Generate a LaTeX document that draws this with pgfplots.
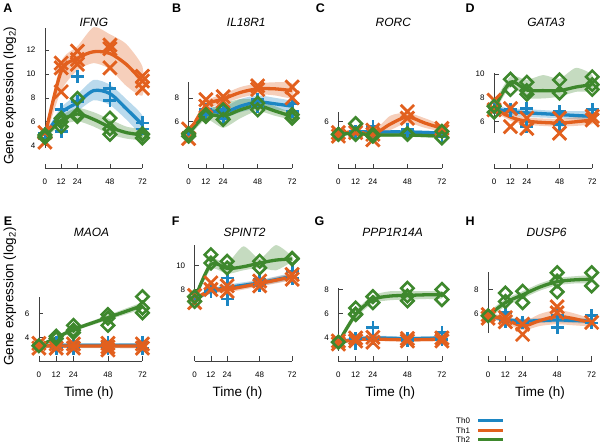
\documentclass[border=0pt]{standalone}
\usepackage{fontspec}
\setmainfont{Liberation Sans}
\usepackage{pgfplots}
\pgfplotsset{compat=1.18}
\definecolor{c0}{RGB}{28,134,195}
\definecolor{c1}{RGB}{226,96,30}
\definecolor{c2}{RGB}{62,136,45}
\colorlet{axc}{black!75}
\pgfplotsset{
 panel/.style={scale only axis, clip=false, xmin=0, xmax=72, enlargelimits=false,
   axis x line*=bottom, axis y line*=left,
   x axis line style={-, draw=axc, line width=0.6pt},
   y axis line style={draw=none},
   xtick={0,12,24,48,72}, tick align=inside, major tick length=4.5pt,
   tick style={axc, line width=0.6pt},
   ticklabel style={font=\fontsize{8}{9}\selectfont},
   xticklabel style={yshift=-7.5pt}, yticklabel style={xshift=-6pt},
   /pgf/number format/assume math mode=true,
   anchor=south west},
 toprow/.style={ymin=2.125, ymax=14, height=142.5pt},
 botrow/.style={ymin=2.03, ymax=12, height=119.64pt},
}
\newcommand{\band}[2]{\addplot[#1, fill=#1, fill opacity=0.3, draw=none, smooth, tension=0.4, forget plot] coordinates {#2} -- cycle;}
\newcommand{\mline}[2]{\addplot[#1, line width=3.3pt, smooth, no marks] coordinates {#2};}
\newcommand{\mzero}[1]{\addplot[only marks, c0, mark=+, mark size=6.5pt, mark options={line width=2.8pt}] coordinates {#1};}
\newcommand{\mone}[1]{\addplot[only marks, c1, mark=x, mark size=9.5pt, mark options={line width=2.8pt}] coordinates {#1};}
\newcommand{\mtwo}[1]{\addplot[only marks, c2, mark=square, mark size=4.4pt, mark options={line width=2.6pt, rotate=45}] coordinates {#1};}
\newcommand{\yrange}[2]{\draw[axc, line width=0.6pt] (axis cs:0,#1) -- (axis cs:0,#2);}
\begin{document}
\begin{tikzpicture}
\path (0,0) rectangle (600pt,445pt);
% ---------- A IFNG
\begin{axis}[panel, toprow, at={(45pt,276.5pt)}, width=97.7pt, ytick={4,6,8,10,12}]
\yrange{3.8}{13.8}
\band{c0}{(0,5.1)(12,7.2)(24,8.3)(36,9.5)(48,9.1)(60,7.9)(72,6.5)(72,4.9)(60,6.2)(48,7.4)(36,7.8)(24,6.9)(12,6.2)(0,4.5)}
\band{c1}{(0,5.1)(12,11.0)(24,12.3)(36,13.9)(48,13.3)(60,12.5)(72,10.6)(72,8.2)(60,9.0)(48,10.4)(36,10.9)(24,10.3)(12,8.6)(0,4.5)}
\band{c2}{(0,5.0)(12,6.5)(24,7.15)(36,6.8)(48,6.2)(60,5.6)(72,5.3)(72,4.5)(60,4.6)(48,4.95)(36,5.6)(24,6.05)(12,5.7)(0,4.6)}
\mline{c0}{(0,4.8)(12,6.75)(24,7.6)(36,8.6)(48,8.35)(60,7.1)(72,5.75)}
\mzero{(0,4.6)(0,5.0)(12,7.0)(12,5.2)(24,9.8)(24,7.7)(48,8.8)(48,7.8)(72,5.9)(72,5.4)}
\mline{c1}{(0,4.8)(12,10.2)(24,11.3)(36,11.85)(48,11.7)(60,10.8)(72,9.4)}
\mone{(0,4.3)(0,5.1)(12,10.9)(12,10.5)(12,8.5)(24,11.9)(24,11.2)(24,10.8)(48,12.4)(48,12.1)(48,10.5)(72,9.8)(72,9.4)(72,8.8)}
\mline{c2}{(0,4.8)(12,6.1)(24,6.65)(36,6.2)(48,5.55)(60,5.1)(72,4.9)}
\mtwo{(0,4.7)(0,4.9)(12,6.3)(12,5.6)(12,6.0)(24,7.95)(24,6.45)(24,6.6)(48,6.3)(48,4.95)(48,5.4)(72,4.95)(72,4.65)(72,5.0)}
\end{axis}
% ---------- B IL18R1
\begin{axis}[panel, toprow, at={(189pt,276.5pt)}, width=103.7pt, ytick={6,8}]
\yrange{4.36}{9.36}
\band{c0}{(0,5.3)(12,7.2)(24,7.2)(36,7.9)(48,8.2)(60,8.0)(72,7.7)(72,6.9)(60,7.0)(48,7.1)(36,6.8)(24,6.3)(12,6.5)(0,4.7)}
\band{c1}{(0,5.3)(12,7.7)(24,8.3)(36,8.9)(48,9.2)(60,9.3)(72,9.2)(72,8.0)(60,8.2)(48,8.3)(36,8.0)(24,7.5)(12,7.0)(0,4.7)}
\band{c2}{(0,5.3)(12,6.9)(24,7.5)(36,7.9)(48,7.8)(60,7.3)(72,6.7)(72,6.2)(60,6.5)(48,6.9)(36,6.3)(24,5.5)(12,6.2)(0,4.7)}
\mline{c0}{(0,5.0)(12,6.85)(24,6.75)(36,7.3)(48,7.65)(60,7.5)(72,7.3)}
\mzero{(0,5.1)(12,7.0)(12,6.6)(24,7.0)(24,6.3)(48,7.85)(48,7.3)(72,7.55)(72,6.85)}
\mline{c1}{(0,5.0)(12,7.35)(24,7.9)(36,8.45)(48,8.75)(60,8.75)(72,8.6)}
\mone{(0,4.6)(0,5.4)(12,7.85)(12,7.3)(24,8.1)(24,7.7)(48,9.0)(48,8.7)(72,8.9)(72,8.0)}
\mline{c2}{(0,5.0)(12,6.55)(24,6.45)(36,7.0)(48,7.35)(60,6.9)(72,6.45)}
\mtwo{(0,5.0)(0,4.8)(12,6.6)(12,6.45)(24,7.0)(24,6.2)(48,7.55)(48,7.0)(72,6.6)(72,6.3)}
\end{axis}
% ---------- C RORC
\begin{axis}[panel, toprow, at={(339pt,276.5pt)}, width=103.7pt, ytick={6}]
\yrange{4.36}{6.78}
\band{c0}{(0,5.1)(12,5.3)(24,5.3)(48,5.3)(72,5.2)(72,4.9)(48,5.0)(24,5.0)(12,5.0)(0,4.8)}
\band{c1}{(0,5.1)(12,5.4)(24,5.2)(36,6.5)(48,6.75)(60,6.3)(72,5.7)(72,5.2)(60,5.5)(48,5.9)(36,5.3)(24,4.7)(12,5.0)(0,4.8)}
\band{c2}{(0,5.1)(12,5.2)(24,5.05)(48,5.05)(72,4.95)(72,4.65)(48,4.75)(24,4.75)(12,4.9)(0,4.8)}
\mline{c0}{(0,4.95)(12,5.15)(24,5.15)(48,5.15)(72,5.05)}
\mzero{(0,5.0)(12,5.2)(12,5.0)(24,5.6)(24,4.8)(48,5.35)(48,5.1)(72,5.2)(72,4.8)}
\mline{c1}{(0,4.95)(12,5.2)(24,4.95)(36,5.8)(48,6.4)(60,5.9)(72,5.45)}
\mone{(0,4.8)(0,5.1)(12,5.3)(12,5.1)(24,4.95)(24,4.5)(24,5.3)(48,6.85)(48,6.3)(72,5.45)(72,5.2)}
\mline{c2}{(0,4.95)(12,5.05)(24,4.9)(48,4.9)(72,4.8)}
\mtwo{(0,4.95)(12,5.85)(12,4.95)(24,4.8)(24,4.95)(48,4.95)(48,5.0)(72,5.2)(72,4.65)}
\end{axis}
% ---------- D GATA3
\begin{axis}[panel, toprow, at={(495pt,276.5pt)}, width=98.3pt, ytick={6,8,10}]
\yrange{5.06}{10.1}
\band{c0}{(0,7.4)(12,7.1)(24,7.05)(48,6.9)(72,6.85)(72,6.15)(48,6.3)(24,6.4)(12,6.55)(0,6.8)}
\band{c1}{(0,7.4)(12,6.7)(24,6.35)(48,6.25)(72,6.5)(72,5.8)(48,5.6)(24,5.75)(12,6.1)(0,6.8)}
\band{c2}{(0,7.6)(12,9.8)(24,9.5)(36,9.9)(48,9.6)(60,10.5)(72,9.9)(72,8.6)(60,8.5)(48,8.1)(36,7.95)(24,8.0)(12,8.9)(0,6.7)}
\mline{c0}{(0,7.1)(12,6.85)(24,6.75)(48,6.6)(72,6.45)}
\mzero{(0,7.2)(12,7.0)(12,6.9)(24,7.1)(24,5.6)(48,6.85)(48,5.75)(72,7.0)(72,6.6)}
\mline{c1}{(0,7.1)(12,6.4)(24,6.05)(48,5.9)(72,6.15)}
\mone{(0,7.8)(0,7.0)(12,7.1)(12,5.6)(24,6.3)(24,5.45)(48,6.3)(48,5.05)(72,6.45)(72,6.15)}
\mline{c2}{(0,7.1)(12,9.3)(24,8.65)(36,8.6)(48,8.6)(60,8.9)(72,9.1)}
\mtwo{(0,7.3)(0,6.8)(12,9.55)(12,8.7)(24,9.3)(24,8.3)(24,8.6)(48,9.5)(48,8.4)(72,9.75)(72,9.1)(72,8.7)}
\end{axis}
% ---------- E MAOA
\begin{axis}[panel, botrow, at={(39pt,83.4pt)}, width=103.7pt, ytick={4,6}]
\yrange{2.86}{7.39}
\band{c0}{(0,3.45)(12,3.5)(24,3.5)(48,3.5)(72,3.5)(72,3.15)(48,3.15)(24,3.15)(12,3.15)(0,3.15)}
\band{c1}{(0,3.45)(12,3.45)(24,3.45)(48,3.45)(72,3.45)(72,3.1)(48,3.1)(24,3.1)(12,3.1)(0,3.1)}
\band{c2}{(0,3.45)(12,4.1)(24,4.8)(48,5.85)(72,6.9)(72,6.4)(48,5.45)(24,4.5)(12,3.8)(0,3.15)}
\mline{c0}{(0,3.3)(12,3.33)(24,3.33)(48,3.33)(72,3.33)}
\mzero{(0,3.3)(12,3.55)(12,3.1)(24,3.55)(24,3.1)(48,3.55)(48,3.1)(72,3.55)(72,3.1)}
\mline{c1}{(0,3.3)(12,3.28)(24,3.28)(48,3.28)(72,3.28)}
\mone{(0,3.5)(0,3.1)(12,3.45)(12,3.1)(24,3.45)(24,3.1)(48,3.5)(48,3.2)(48,2.95)(72,3.45)(72,3.1)}
\mline{c2}{(0,3.3)(12,3.95)(24,4.65)(48,5.65)(72,6.65)}
\mtwo{(0,3.3)(12,4.1)(12,3.9)(24,5.0)(24,4.4)(24,4.6)(48,5.9)(48,5.0)(48,5.6)(72,7.4)(72,6.45)(72,6.05)}
\end{axis}
% ---------- F SPINT2
\begin{axis}[panel, botrow, at={(195pt,83.4pt)}, width=97.7pt, ytick={8,10}]
\yrange{6.75}{11.75}
\band{c0}{(0,7.4)(12,8.05)(24,8.4)(48,8.8)(72,9.35)(72,8.85)(48,8.3)(24,7.9)(12,7.65)(0,7.0)}
\band{c1}{(0,7.4)(12,8.1)(24,8.25)(48,8.75)(72,9.3)(72,8.8)(48,8.25)(24,7.75)(12,7.7)(0,7.0)}
\band{c2}{(0,7.4)(12,10.5)(24,10.2)(36,11.6)(48,10.55)(60,11.7)(72,10.75)(72,10.35)(60,9.6)(48,9.8)(36,9.6)(24,9.3)(12,9.7)(0,7.0)}
\mline{c0}{(0,7.2)(12,7.85)(24,8.15)(48,8.55)(72,9.1)}
\mzero{(0,7.3)(12,8.0)(12,7.8)(24,8.95)(24,7.2)(48,8.85)(48,8.3)(72,9.5)(72,8.95)}
\mline{c1}{(0,7.2)(12,7.9)(24,8.0)(48,8.5)(72,9.05)}
\mone{(0,6.9)(0,7.5)(12,8.55)(12,8.0)(24,8.3)(24,7.85)(48,8.7)(48,8.3)(72,9.25)(72,8.85)}
\mline{c2}{(0,7.2)(12,10.1)(24,9.75)(36,9.9)(48,10.2)(60,10.45)(72,10.55)}
\mtwo{(0,7.0)(0,7.4)(12,10.9)(12,10.2)(24,10.35)(24,9.8)(48,10.35)(48,9.8)(72,10.55)(72,10.6)}
\end{axis}
% ---------- G PPP1R14A
\begin{axis}[panel, botrow, at={(339pt,83.4pt)}, width=103.7pt, ytick={4,6,8}]
\yrange{2.86}{8.08}
\band{c0}{(0,3.75)(12,4.0)(24,4.15)(48,4.05)(72,4.1)(72,3.8)(48,3.75)(24,3.75)(12,3.7)(0,3.45)}
\band{c1}{(0,3.75)(12,3.95)(24,4.0)(48,3.95)(72,4.0)(72,3.7)(48,3.65)(24,3.7)(12,3.65)(0,3.45)}
\band{c2}{(0,3.7)(12,6.2)(24,7.5)(36,7.85)(48,7.85)(60,7.85)(72,7.85)(72,7.25)(60,7.2)(48,7.15)(36,7.1)(24,6.85)(12,5.6)(0,3.4)}
\mline{c0}{(0,3.6)(12,3.85)(24,3.95)(48,3.9)(72,3.95)}
\mzero{(0,3.6)(12,3.9)(12,3.5)(24,4.8)(24,3.9)(48,3.9)(48,3.7)(72,4.4)(72,3.8)}
\mline{c1}{(0,3.6)(12,3.8)(24,3.85)(48,3.8)(72,3.85)}
\mone{(0,3.7)(0,3.45)(12,3.95)(12,3.7)(24,4.0)(24,3.6)(48,3.9)(48,3.7)(72,3.95)(72,3.7)}
\mline{c2}{(0,3.56)(12,5.9)(24,7.15)(36,7.45)(48,7.5)(60,7.55)(72,7.55)}
\mtwo{(0,3.6)(12,6.45)(12,5.9)(12,5.95)(24,7.4)(24,6.9)(48,8.1)(48,7.45)(48,7.05)(72,8.0)(72,7.15)}
\end{axis}
% ---------- H DUSP6
\begin{axis}[panel, botrow, at={(489pt,83.4pt)}, width=103.7pt, ytick={6,8}]
\yrange{4.39}{9.44}
\band{c0}{(0,6.0)(12,5.7)(24,5.55)(48,5.65)(72,5.55)(72,5.15)(48,5.25)(24,5.15)(12,5.3)(0,5.6)}
\band{c1}{(0,6.0)(12,5.8)(24,5.3)(36,5.95)(48,6.3)(60,6.0)(72,5.5)(72,4.95)(60,5.0)(48,5.1)(36,4.95)(24,4.6)(12,5.2)(0,5.6)}
\band{c2}{(0,6.1)(12,7.2)(24,7.85)(36,8.5)(48,8.95)(60,9.1)(72,9.15)(72,8.55)(60,8.5)(48,8.35)(36,7.9)(24,7.25)(12,6.6)(0,5.5)}
\mline{c0}{(0,5.8)(12,5.5)(24,5.35)(48,5.45)(72,5.35)}
\mzero{(0,5.8)(12,6.05)(12,5.35)(24,5.2)(48,5.8)(48,4.8)(72,5.8)(72,5.2)}
\mline{c1}{(0,5.8)(12,5.5)(24,4.95)(36,5.4)(48,5.75)(60,5.55)(72,5.2)}
\mone{(0,5.9)(0,5.6)(12,5.65)(12,5.3)(24,5.1)(24,4.25)(48,6.55)(48,6.05)(72,5.25)}
\mline{c2}{(0,5.8)(12,6.9)(24,7.55)(36,8.2)(48,8.65)(60,8.8)(72,8.85)}
\mtwo{(0,5.8)(12,7.7)(12,7.0)(24,7.85)(24,6.9)(48,9.4)(48,8.7)(48,7.8)(72,9.4)(72,8.3)}
\end{axis}
% ---------- text
\tikzset{lett/.style={font=\fontsize{12.5}{14}\selectfont\bfseries},
         ttl/.style={font=\fontsize{12}{14}\selectfont\itshape},
         lab/.style={font=\fontsize{13.5}{15}\selectfont}}
\node[lett] at (8pt,437pt) {A};
\node[lett] at (177pt,437pt) {B};
\node[lett] at (321pt,437pt) {C};
\node[lett] at (471pt,437pt) {D};
\node[lett] at (8pt,223pt) {E};
\node[lett] at (176pt,223pt) {F};
\node[lett] at (320pt,223pt) {G};
\node[lett] at (471pt,223pt) {H};
\node[ttl] at (94pt,422.5pt) {IFNG};
\node[ttl] at (246.7pt,422.5pt) {IL18R1};
\node[ttl] at (394pt,422.5pt) {RORC};
\node[ttl] at (547pt,422.5pt) {GATA3};
\node[ttl] at (91.7pt,212.5pt) {MAOA};
\node[ttl] at (245pt,212.5pt) {SPINT2};
\node[ttl] at (393.3pt,212.5pt) {PPP1R14A};
\node[ttl] at (547.5pt,212.5pt) {DUSP6};
\node[lab, rotate=90] at (10pt,349pt) {Gene expression (log\textsubscript{2})};
\node[lab, rotate=90] at (10pt,148pt) {Gene expression (log\textsubscript{2})};
\node[lab] at (89pt,51pt) {Time (h)};
\node[lab] at (238pt,51pt) {Time (h)};
\node[lab] at (391pt,51pt) {Time (h)};
\node[lab] at (541pt,51pt) {Time (h)};
% legend
\node[anchor=east, font=\fontsize{8}{9}\selectfont, inner sep=1pt] at (472pt,23.3pt) {Th0};
\node[anchor=east, font=\fontsize{8}{9}\selectfont, inner sep=1pt] at (472pt,14pt) {Th1};
\node[anchor=east, font=\fontsize{8}{9}\selectfont, inner sep=1pt] at (472pt,5pt) {Th2};
\draw[c0, line width=3pt] (479pt,23.3pt) -- (504pt,23.3pt);
\draw[c1, line width=3pt] (479pt,14pt) -- (504pt,14pt);
\draw[c2, line width=3pt] (479pt,5pt) -- (504pt,5pt);
\end{tikzpicture}
\end{document}
